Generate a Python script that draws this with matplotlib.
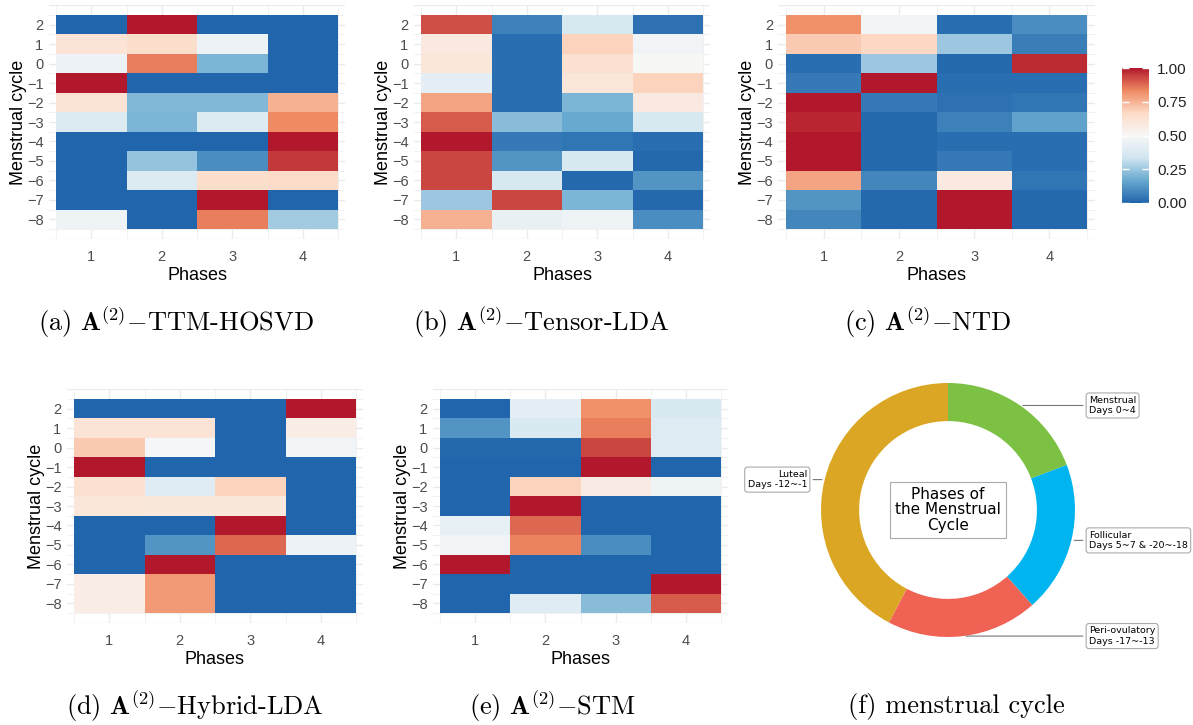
import numpy as np
import matplotlib
matplotlib.use("Agg")
import matplotlib.pyplot as plt
from matplotlib.colors import LinearSegmentedColormap
from matplotlib.cm import ScalarMappable
from matplotlib.colors import Normalize

plt.rcParams["mathtext.fontset"] = "cm"

# rows are menstrual cycle 2 .. -8 (top to bottom), columns are phases 1..4
cycle = [2, 1, 0, -1, -2, -3, -4, -5, -6, -7, -8]
phases = [1, 2, 3, 4]

ttm_hosvd = [
    [0.00, 1.00, 0.00, 0.00],
    [0.62, 0.65, 0.45, 0.00],
    [0.45, 0.85, 0.20, 0.00],
    [1.00, 0.00, 0.00, 0.00],
    [0.62, 0.21, 0.21, 0.75],
    [0.38, 0.20, 0.38, 0.83],
    [0.00, 0.00, 0.00, 1.00],
    [0.00, 0.24, 0.10, 0.95],
    [0.00, 0.38, 0.65, 0.66],
    [0.00, 0.00, 1.00, 0.00],
    [0.46, 0.00, 0.85, 0.26],
]
tensor_lda = [
    [0.92, 0.07, 0.36, 0.03],
    [0.58, 0.02, 0.68, 0.47],
    [0.60, 0.02, 0.63, 0.50],
    [0.42, 0.02, 0.60, 0.68],
    [0.78, 0.02, 0.20, 0.58],
    [0.90, 0.22, 0.17, 0.37],
    [1.00, 0.05, 0.04, 0.02],
    [0.93, 0.12, 0.37, 0.01],
    [0.93, 0.36, 0.01, 0.12],
    [0.25, 0.93, 0.20, 0.01],
    [0.75, 0.44, 0.46, 0.10],
]
ntd = [
    [0.82, 0.48, 0.02, 0.10],
    [0.70, 0.67, 0.25, 0.06],
    [0.02, 0.25, 0.01, 0.97],
    [0.05, 1.00, 0.02, 0.02],
    [1.00, 0.05, 0.03, 0.04],
    [0.98, 0.01, 0.07, 0.15],
    [1.00, 0.01, 0.02, 0.02],
    [1.00, 0.01, 0.05, 0.02],
    [0.78, 0.08, 0.58, 0.04],
    [0.12, 0.01, 1.00, 0.01],
    [0.08, 0.01, 1.00, 0.01],
]
hybrid_lda = [
    [0.00, 0.00, 0.00, 1.00],
    [0.62, 0.62, 0.00, 0.56],
    [0.70, 0.49, 0.00, 0.47],
    [1.00, 0.00, 0.00, 0.00],
    [0.63, 0.40, 0.68, 0.00],
    [0.60, 0.59, 0.59, 0.00],
    [0.00, 0.00, 1.00, 0.00],
    [0.00, 0.12, 0.88, 0.45],
    [0.00, 1.00, 0.00, 0.00],
    [0.56, 0.80, 0.00, 0.00],
    [0.56, 0.80, 0.00, 0.00],
]
stm = [
    [0.00, 0.42, 0.82, 0.37],
    [0.12, 0.37, 0.85, 0.39],
    [0.01, 0.01, 0.93, 0.39],
    [0.00, 0.00, 1.00, 0.00],
    [0.00, 0.68, 0.57, 0.46],
    [0.00, 1.00, 0.00, 0.00],
    [0.43, 0.88, 0.00, 0.00],
    [0.47, 0.84, 0.10, 0.00],
    [1.00, 0.00, 0.00, 0.00],
    [0.00, 0.00, 0.00, 1.00],
    [0.00, 0.40, 0.22, 0.90],
]

phase_names = ["Menstrual", "Follicular", "Peri-ovulatory", "Luteal"]
phase_days = ["Days 0~4", "Days 5~7 & -20~-18", "Days -17~-13", "Days -12~-1"]
phase_sizes = [5, 5, 5, 11]
phase_colors = ["#7cc143", "#00b4ef", "#f06354", "#dba623"]

captions = [
    r"(a) $\mathbf{A}^{(2)}$$-$TTM-HOSVD",
    r"(b) $\mathbf{A}^{(2)}$$-$Tensor-LDA",
    r"(c) $\mathbf{A}^{(2)}$$-$NTD",
    r"(d) $\mathbf{A}^{(2)}$$-$Hybrid-LDA",
    r"(e) $\mathbf{A}^{(2)}$$-$STM",
    "(f) menstrual cycle",
]

rdbu = LinearSegmentedColormap.from_list(
    "rdbu_gg", ["#2166AC", "#67A9CF", "#D1E5F0", "#F7F7F7", "#FDDBC7", "#EF8A62", "#B2182B"])

W, H = 1193, 725
fig = plt.figure(figsize=(W / 100, H / 100), dpi=100)
gg_font = "Liberation Sans"


def px_axes(x0, y0, x1, y1):
    return fig.add_axes([x0 / W, 1 - y1 / H, (x1 - x0) / W, (y1 - y0) / H])


def heatmap(tiles, data):
    x0, y0, x1, y1 = tiles
    tw = (x1 - x0) / 4
    th = (y1 - y0) / 11
    ax = px_axes(x0 - 0.1 * tw, y0 - 0.5 * th, x1 + 0.1 * tw, y1 + 0.5 * th)
    ax.set_xlim(0.4, 4.6)
    ax.set_ylim(-9, 3)
    for y in np.arange(-9, 3.01, 0.5):
        ax.axhline(y, color="#EBEBEB", lw=1.0 if y == int(y) else 0.5, zorder=0)
    for x in np.arange(0.5, 4.51, 0.5):
        ax.axvline(x, color="#EBEBEB", lw=1.0 if x == int(x) else 0.5, zorder=0)
    vals = np.array(data)[::-1]
    xe = np.arange(len(phases) + 1) + 0.5
    ye = np.array(cycle[::-1] + [cycle[0] + 1]) - 0.5
    ax.pcolormesh(xe, ye, vals, cmap=rdbu, vmin=0, vmax=1, zorder=2)
    for s in ax.spines.values():
        s.set_visible(False)
    ax.set_xticks(phases)
    ax.set_yticks(cycle)
    ax.tick_params(axis="x", length=0, labelsize=10.5, labelcolor="#4D4D4D", pad=8)
    ax.tick_params(axis="y", length=0, labelsize=10.5, labelcolor="#4D4D4D", pad=4)
    for lab in ax.get_xticklabels() + ax.get_yticklabels():
        lab.set_family(gg_font)
    ax.set_xlabel("Phases", fontsize=13, labelpad=2, family=gg_font)
    ax.set_ylabel("Menstrual cycle", fontsize=13, labelpad=0, family=gg_font)
    return ax


heatmap((56, 15, 338, 229), ttm_hosvd)
heatmap((421, 15, 703, 229), tensor_lda)
heatmap((786, 15, 1087, 229), ntd)
heatmap((74, 399, 356, 613), hybrid_lda)
heatmap((440, 399, 721, 613), stm)

# colour bar
cax = px_axes(1122, 68, 1149, 203)
cb = fig.colorbar(ScalarMappable(norm=Normalize(0, 1), cmap=rdbu), cax=cax)
cb.outline.set_visible(False)
cb.set_ticks([0, 0.25, 0.5, 0.75, 1.0])
cb.set_ticklabels(["0.00", "0.25", "0.50", "0.75", "1.00"])
cax.tick_params(direction="in", length=5, width=1, color="white", left=True, right=True,
                labelsize=11, labelcolor="#222222", pad=6)
for lab in cax.get_yticklabels():
    lab.set_family(gg_font)

# donut
cx, cy, r = 948, 510, 127
L = 1.5
pax = px_axes(cx - r * L, cy - r * L, cx + r * L, cy + r * L)
wedges, _ = pax.pie(phase_sizes, colors=phase_colors, startangle=90, counterclock=False,
                    radius=1, wedgeprops=dict(width=0.3, edgecolor="none"))
pax.set_xlim(-L, L)
pax.set_ylim(-L, L)
pax.set_aspect("equal")
pax.axis("off")
for w, name, days in zip(wedges, phase_names, phase_days):
    ang = np.deg2rad((w.theta1 + w.theta2) / 2)
    x, y = np.cos(ang), np.sin(ang)
    side = 1 if x > 0 else -1
    pax.annotate(name + "\n" + days, xy=(x, y), xytext=(1.11 * side, y),
                 ha="left" if side > 0 else "right", va="center", fontsize=6.8,
                 multialignment="left" if side > 0 else "right",
                 bbox=dict(boxstyle="round,pad=0.3", fc="white", ec="#aaaaaa", lw=0.8),
                 arrowprops=dict(arrowstyle="-", color="#777777", lw=0.8))
pax.text(0, 0, "Phases of\nthe Menstrual\nCycle", ha="center", va="center", fontsize=11,
         linespacing=1.05,
         bbox=dict(boxstyle="square,pad=0.3", fc="white", ec="#aaaaaa", lw=0.8))

# captions
cap_pos = [(176, 322), (541, 322), (928, 322), (195, 706), (552, 706), (956, 706)]
for (x, y), c in zip(cap_pos, captions):
    fig.text(x / W, 1 - y / H, c, ha="center", va="center", fontsize=19, family="cmr10")

fig.savefig("out.png", dpi=100)
